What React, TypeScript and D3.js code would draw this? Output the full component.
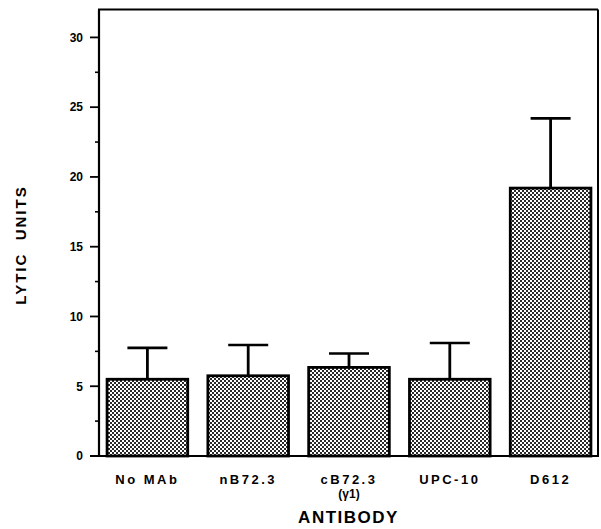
import React from "react";
import * as d3 from "d3";

const categories = ["No MAb", "nB72.3", "cB72.3", "UPC-10", "D612"];
const subLabels = ["", "", "(γ1)", "", ""];
const means = [5.5, 5.75, 6.35, 5.5, 19.2];
const errors = [2.25, 2.2, 1.0, 2.6, 5.0];
const majorTicks = [0, 5, 10, 15, 20, 25, 30];
const minorTicks = [2.5, 7.5, 12.5, 17.5, 22.5, 27.5];

const W = 601;
const H = 529;
const left = 99;
const right = 598;
const top = 9.5;
const bottom = 456;

export default function App() {
  const y = d3.scaleLinear().domain([0, 32]).range([bottom, top]);
  const x = d3
    .scaleBand<string>()
    .domain(categories)
    .range([97, 601])
    .paddingInner(0.2)
    .paddingOuter(0.1);
  const bw = x.bandwidth();
  const font = "Arial, 'Liberation Sans', Helvetica, sans-serif";

  return (
    <svg
      width={W}
      height={H}
      style={{ position: "absolute", left: 0, top: 0, background: "#fff" }}
      fontFamily={font}
    >
      <defs>
        <pattern id="dots" width={4} height={4} patternUnits="userSpaceOnUse">
          <rect x={0} y={0} width={4} height={4} fill="#fff" />
          <rect x={0} y={0} width={2} height={2} fill="#2a2a2a" />
          <rect x={2} y={2} width={2} height={2} fill="#2a2a2a" />
        </pattern>
      </defs>

      {/* bars */}
      {categories.map((c, i) => {
        const x0 = x(c)!;
        const cx = x0 + bw / 2;
        const yt = y(means[i]);
        const ye = y(means[i] + errors[i]);
        return (
          <g key={c}>
            <line x1={cx} x2={cx} y1={yt} y2={ye} stroke="#000" strokeWidth={2.8} />
            <line x1={cx - 20} x2={cx + 20} y1={ye} y2={ye} stroke="#000" strokeWidth={2.6} />
            <rect
              x={x0}
              y={yt}
              width={bw}
              height={bottom - yt}
              fill="url(#dots)"
              stroke="#000"
              strokeWidth={2.8}
            />
          </g>
        );
      })}

      {/* frame */}
      <line x1={left} x2={left} y1={top} y2={bottom} stroke="#000" strokeWidth={2.2} />
      <line x1={left - 1} x2={right} y1={top} y2={top} stroke="#000" strokeWidth={2} />
      <line x1={right} x2={right} y1={top} y2={bottom} stroke="#000" strokeWidth={2} />
      <line x1={90} x2={right + 1} y1={bottom} y2={bottom} stroke="#000" strokeWidth={2.2} />

      {/* y ticks */}
      {majorTicks.map((t) => (
        <g key={t}>
          <line x1={90} x2={left} y1={y(t)} y2={y(t)} stroke="#000" strokeWidth={1.8} />
          <text
            x={83}
            y={y(t)}
            dy="0.36em"
            textAnchor="end"
            fontSize={12}
            fontWeight="bold"
          >
            {t}
          </text>
        </g>
      ))}
      {minorTicks.map((t) => (
        <line key={t} x1={95} x2={left} y1={y(t)} y2={y(t)} stroke="#000" strokeWidth={1.6} />
      ))}

      {/* x labels */}
      {categories.map((c, i) => {
        const cx = x(c)! + bw / 2;
        return (
          <g key={c}>
            <text
              x={cx}
              y={484}
              textAnchor="middle"
              fontSize={13}
              fontWeight="bold"
              letterSpacing={2.5}
            >
              {c}
            </text>
            {subLabels[i] && (
              <text x={cx} y={498} textAnchor="middle" fontSize={12} fontWeight="bold">
                {subLabels[i]}
              </text>
            )}
          </g>
        );
      })}

      <text
        x={(left + right) / 2}
        y={523}
        textAnchor="middle"
        fontSize={17}
        fontWeight="bold"
        letterSpacing={1.5}
      >
        ANTIBODY
      </text>

      <text
        transform={`translate(26,245) rotate(-90)`}
        textAnchor="middle"
        fontSize={15}
        fontWeight="bold"
        letterSpacing={2}
        xmlSpace="preserve"
      >
        LYTIC  UNITS
      </text>
    </svg>
  );
}
